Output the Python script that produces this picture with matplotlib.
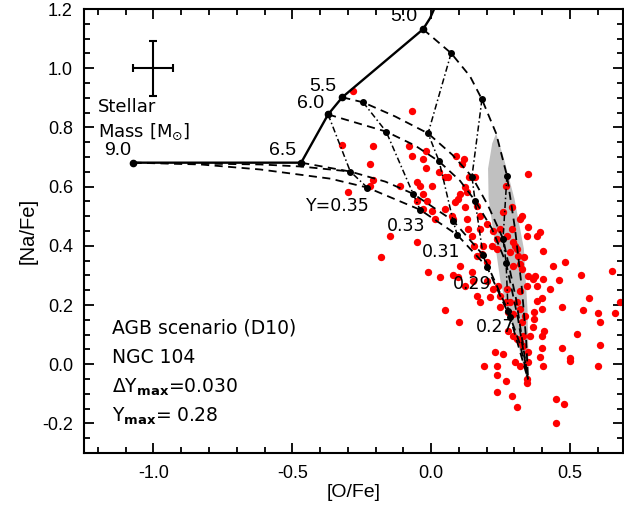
"""AGB dilution scenario for NGC 104: [Na/Fe] vs [O/Fe]."""

import matplotlib

matplotlib.use("Agg")
import matplotlib.pyplot as plt
from matplotlib.ticker import MultipleLocator

plt.rcParams["font.family"] = ["Liberation Sans", "DejaVu Sans"]
plt.rcParams["mathtext.fontset"] = "dejavusans"

# observed stars ([O/Fe], [Na/Fe])
STAR_OFE = [
    -0.281, -0.068, -0.320, -0.209, -0.219, -0.209, -0.299, -0.219, -0.112, -0.079,
    -0.068, -0.029, -0.018, -0.018, 0.029, 0.050, 0.061, -0.050, -0.040, 0.004,
    0.090, 0.119, 0.112, 0.137, 0.158, 0.122, 0.129, 0.270, 0.349, -0.029,
    0.104, -0.147, -0.050, -0.180, -0.011, 0.079, 0.032, 0.050, 0.101, -0.050,
    -0.014, -0.029, 0.004, 0.014, 0.050, 0.079, 0.097, 0.122, 0.129, 0.133,
    0.147, 0.155, 0.176, 0.187, 0.165, 0.183, 0.201, 0.147, 0.104, 0.097,
    0.122, 0.151, 0.201, 0.165, 0.176, 0.223, 0.241, 0.248, 0.273, 0.284,
    0.309, 0.320, 0.338, 0.295, 0.273, 0.291, 0.295, 0.248, 0.237, 0.284,
    0.313, 0.345, 0.349, 0.327, 0.295, 0.403, 0.439, 0.482, 0.460, 0.428,
    0.540, 0.651, 0.568, 0.471, 0.547, 0.601, 0.662, 0.608, 0.525, 0.608,
    0.471, 0.500, 0.500, 0.601, 0.403, 0.399, 0.399, 0.406, 0.367, 0.371,
    0.399, 0.371, 0.399, 0.381, 0.403, 0.367, 0.374, 0.381, 0.392, 0.381,
    0.349, 0.309, 0.320, 0.327, 0.320, 0.335, 0.259, 0.230, 0.259, 0.191,
    0.237, 0.237, 0.270, 0.302, 0.320, 0.349, 0.291, 0.237, 0.309, 0.450,
    0.478, 0.450, 0.345, 0.345, 0.331, 0.327, 0.309, 0.295, 0.248, 0.270,
    0.277, 0.331, 0.320, 0.349, 0.680, 0.076, 0.165, 0.176, 0.201, 0.086,
    0.291, 0.302, 0.223, 0.237, 0.219, 0.212, 0.320, 0.345, 0.277, 0.356,
    0.392,
]
STAR_NAFE = [
    0.922, 0.854, 0.742, 0.736, 0.675, 0.624, 0.583, 0.603, 0.603, 0.736,
    0.705, 0.695, 0.722, 0.664, 0.651, 0.634, 0.634, 0.617, 0.603, 0.603,
    0.705, 0.695, 0.675, 0.634, 0.634, 0.600, 0.583, 0.603, 0.644, 0.576,
    0.576, 0.434, 0.414, 0.363, 0.312, 0.302, 0.295, 0.183, 0.142, 0.553,
    0.553, 0.525, 0.519, 0.492, 0.525, 0.492, 0.559, 0.532, 0.492, 0.458,
    0.434, 0.400, 0.458, 0.400, 0.366, 0.373, 0.346, 0.312, 0.332, 0.295,
    0.264, 0.281, 0.281, 0.231, 0.210, 0.254, 0.264, 0.231, 0.254, 0.210,
    0.210, 0.186, 0.163, 0.169, 0.434, 0.458, 0.414, 0.458, 0.390, 0.380,
    0.366, 0.434, 0.298, 0.322, 0.332, 0.383, 0.332, 0.346, 0.285, 0.254,
    0.302, 0.315, 0.224, 0.193, 0.183, 0.173, 0.173, 0.142, 0.102, 0.064,
    0.054, 0.020, 0.010, -0.007, -0.007, 0.054, 0.095, 0.112, 0.125, 0.153,
    0.186, 0.176, 0.224, 0.214, 0.288, 0.288, 0.298, 0.264, 0.447, 0.434,
    0.464, 0.390, 0.339, 0.502, 0.492, 0.363, 0.515, 0.041, 0.034, -0.007,
    -0.007, -0.037, -0.058, 0.007, -0.007, 0.007, -0.108, -0.095, -0.146, -0.119,
    -0.136, -0.197, -0.051, -0.064, 0.095, 0.142, 0.085, 0.095, 0.193, 0.210,
    0.176, 0.061, 0.075, 0.041, 0.210, 0.502, 0.536, 0.502, 0.475, 0.549,
    0.532, 0.400, 0.451, 0.424, 0.400, 0.227, 0.247, 0.264, 0.112, 0.095,
    0.024,
]

# stellar mass track (solid line)
MASS_TRACK_OFE = [0.014, -0.004, -0.029, -0.320, -0.371, -0.468, -1.072]
MASS_TRACK_NAFE = [1.207, 1.169, 1.132, 0.902, 0.844, 0.681, 0.681]
MASS_LABELS = ["5.0", "5.5", "6.0", "6.5", "9.0"]
MASS_OFE = [-0.029, -0.320, -0.371, -0.468, -1.072]
MASS_NAFE = [1.132, 0.902, 0.844, 0.681, 0.681]
MASS_LABEL_OFE = [-0.10, -0.39, -0.435, -0.536, -1.13]
MASS_LABEL_NAFE = [1.176, 0.94, 0.88, 0.722, 0.722]

# dilution curves (dashed), one per mass
DILUTION_OFE = {
    "5.0": [-0.029, 0.072, 0.140, 0.183, 0.234, 0.273, 0.302, 0.327, 0.342, 0.349],
    "5.5": [-0.320, -0.245, -0.129, -0.011, 0.076, 0.147, 0.205, 0.259, 0.306, 0.349],
    "6.0": [-0.371, -0.162, -0.058, 0.029, 0.104, 0.158, 0.219, 0.270, 0.313, 0.349],
    "6.5": [-0.468, -0.291, -0.165, -0.065, 0.079, 0.187, 0.277, 0.320, 0.349],
    "9.0": [-1.072, -0.831, -0.615, -0.363, -0.230, -0.040, 0.094, 0.201, 0.284, 0.349],
    "9.0b": [-1.072, -0.831, -0.615, -0.468, -0.291],
}
DILUTION_NAFE = {
    "5.0": [1.132, 1.051, 0.973, 0.895, 0.780, 0.637, 0.458, 0.254, 0.085, -0.051],
    "5.5": [0.902, 0.885, 0.837, 0.780, 0.708, 0.634, 0.536, 0.424, 0.220, -0.051],
    "6.0": [0.844, 0.786, 0.739, 0.685, 0.620, 0.553, 0.458, 0.342, 0.153, -0.051],
    "6.5": [0.681, 0.651, 0.617, 0.576, 0.485, 0.369, 0.180, 0.068, -0.051],
    "9.0": [0.681, 0.675, 0.658, 0.627, 0.597, 0.522, 0.437, 0.329, 0.159, -0.051],
    "9.0b": [0.681, 0.678, 0.675, 0.668, 0.651],
}

# iso-helium lines (dash-dot)
HELIUM_LABELS = ["Y=0.35", "0.33", "0.31", "0.29", "0.27"]
HELIUM_OFE = [
    [-0.371, -0.291, -0.230],
    [-0.245, -0.162, -0.065, -0.040],
    [0.072, -0.011, 0.029, 0.079, 0.094],
    [0.183, 0.147, 0.158, 0.187, 0.201],
    [0.273, 0.259, 0.270, 0.277, 0.284],
]
HELIUM_NAFE = [
    [0.844, 0.651, 0.597],
    [0.885, 0.786, 0.576, 0.522],
    [1.051, 0.780, 0.685, 0.485, 0.437],
    [0.895, 0.634, 0.553, 0.369, 0.329],
    [0.637, 0.424, 0.342, 0.180, 0.159],
]
HELIUM_LABEL_OFE = [-0.335, -0.09, 0.036, 0.147, 0.23]
HELIUM_LABEL_NAFE = [0.536, 0.468, 0.38, 0.271, 0.125]

# grey band
BAND_OFE = [0.234, 0.262, 0.300, 0.334, 0.347, 0.350, 0.350, 0.342, 0.306, 0.273,
            0.250, 0.224, 0.207, 0.205, 0.220]
BAND_NAFE = [0.780, 0.695, 0.559, 0.390, 0.186, 0.051, -0.044, -0.044, 0.095, 0.186,
             0.278, 0.447, 0.559, 0.661, 0.746]

ERR_OFE, ERR_NAFE = -1.0, 1.0
ERR_X, ERR_Y = 0.072, 0.092

INFO_LINES = [
    "AGB scenario (D10)",
    "NGC 104",
    r"$\Delta$Y$_{\mathbf{max}}$=0.030",
    r"Y$_{\mathbf{max}}$= 0.28",
]
INFO_NAFE = [0.122, 0.024, -0.078, -0.176]

NOTE_FONT = ["DejaVu Sans"]


def main():
    fig = plt.figure(figsize=(6.24, 5.05), dpi=100)
    ax = fig.add_axes([0.1346, 0.103, 0.8634, 0.879])

    ax.fill(BAND_OFE, BAND_NAFE, color="#c0c0c0", lw=0, zorder=1)
    ax.scatter(STAR_OFE, STAR_NAFE, s=28, color="#ff0000", lw=0, zorder=2)

    for key in DILUTION_OFE:
        ax.plot(DILUTION_OFE[key], DILUTION_NAFE[key], color="black", lw=1.3,
                ls=(0, (4.5, 3)), zorder=3)
    for xs, ys in zip(HELIUM_OFE, HELIUM_NAFE):
        ax.plot(xs, ys, color="black", lw=1.1, ls=(0, (4, 1.8, 1, 1.8)), zorder=3)
        ax.plot(xs, ys, "o", color="black", ms=4, zorder=4)
    for label, x, y in zip(HELIUM_LABELS, HELIUM_LABEL_OFE, HELIUM_LABEL_NAFE):
        ax.text(x, y, label, fontsize=12.5, family=NOTE_FONT,
                ha="center", va="center", zorder=5)

    ax.plot(MASS_TRACK_OFE, MASS_TRACK_NAFE, color="black", lw=1.7, zorder=3)
    ax.plot(MASS_OFE, MASS_NAFE, "o", color="black", ms=4.5, zorder=4)
    for label, x, y in zip(MASS_LABELS, MASS_LABEL_OFE, MASS_LABEL_NAFE):
        ax.text(x, y, label, fontsize=14, ha="center", va="center", zorder=5)

    ax.errorbar(ERR_OFE, ERR_NAFE, xerr=ERR_X, yerr=ERR_Y, color="black",
                lw=1.5, capsize=3, capthick=1.5)
    ax.text(-1.2, 0.868, "Stellar", fontsize=13, family=NOTE_FONT, va="center")
    ax.text(-1.2, 0.786, r"Mass [M$_{\odot}$]", fontsize=13, family=NOTE_FONT,
            va="center")

    for text, y in zip(INFO_LINES, INFO_NAFE):
        ax.text(-1.148, y, text, fontsize=13.5, family=NOTE_FONT, va="center")

    ax.set_xlim(-1.25, 0.69)
    ax.set_ylim(-0.3, 1.2)
    ax.xaxis.set_major_locator(MultipleLocator(0.5))
    ax.xaxis.set_minor_locator(MultipleLocator(0.1))
    ax.yaxis.set_major_locator(MultipleLocator(0.2))
    ax.yaxis.set_minor_locator(MultipleLocator(0.05))
    ax.xaxis.set_major_formatter(lambda v, pos: f"{v:.1f}")
    ax.yaxis.set_major_formatter(lambda v, pos: f"{v:.1f}")
    ax.tick_params(which="both", direction="in", top=True, right=True,
                   labelsize=13, width=1.3)
    ax.tick_params(which="major", length=7)
    ax.tick_params(axis="x", which="major", pad=9)
    ax.tick_params(axis="y", which="major", pad=8)
    ax.tick_params(which="minor", length=4)
    for spine in ax.spines.values():
        spine.set_linewidth(1.5)

    ax.set_xlabel("[O/Fe]", fontsize=14, labelpad=1)
    ax.set_ylabel("[Na/Fe]", fontsize=14.5, labelpad=3)

    fig.savefig("out.png", dpi=100)
    plt.close(fig)


if __name__ == "__main__":
    main()
